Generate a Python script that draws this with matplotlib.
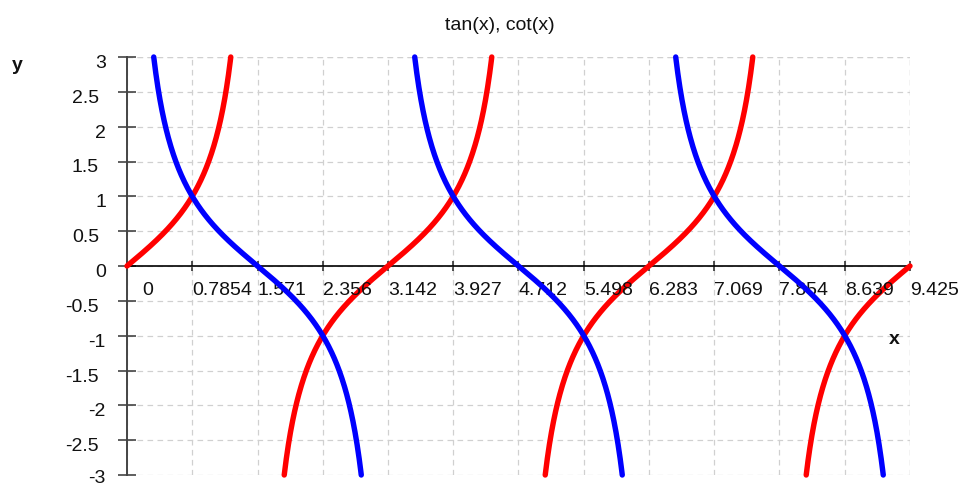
import numpy as np
import matplotlib
matplotlib.use("Agg")
import matplotlib.pyplot as plt

plt.rcParams['font.family'] = ['Liberation Sans', 'DejaVu Sans']

title = "tan(x), cot(x)"
x_min, x_max = 0.0, 3 * np.pi
y_min, y_max = -3.0, 3.0
x_ticks = [0, 0.7854, 1.571, 2.356, 3.142, 3.927, 4.712, 5.498, 6.283, 7.069, 7.854, 8.639, 9.425]
x_tick_labels = ["0", "0.7854", "1.571", "2.356", "3.142", "3.927", "4.712", "5.498",
                 "6.283", "7.069", "7.854", "8.639", "9.425"]
y_ticks = [-3, -2.5, -2, -1.5, -1, -0.5, 0, 0.5, 1, 1.5, 2, 2.5, 3]
y_tick_labels = ["-3", "-2.5", "-2", "-1.5", "-1", "-0.5", "0", "0.5", "1", "1.5", "2", "2.5", "3"]

# branch domains where each function stays inside [-3, 3]
a3 = np.arctan(3.0)
tan_branches = [(0.0, a3), (np.pi - a3, np.pi + a3), (2 * np.pi - a3, 2 * np.pi + a3), (3 * np.pi - a3, 3 * np.pi)]
cot_branches = [(np.pi / 2 - a3, np.pi / 2 + a3), (1.5 * np.pi - a3, 1.5 * np.pi + a3), (2.5 * np.pi - a3, 2.5 * np.pi + a3)]

W, H = 962, 488
fig = plt.figure(figsize=(W / 100, H / 100), dpi=100)
L, R, T, B = 127, 910, 57, 475
ax = fig.add_axes([L / W, 1 - B / H, (R - L) / W, (B - T) / H])
ax.set_xlim(x_min, x_max)
ax.set_ylim(y_min, y_max)

for s in ['top', 'right']:
    ax.spines[s].set_visible(False)
ax.spines['left'].set_position(('data', 0))
ax.spines['left'].set_color('#444444')
ax.spines['left'].set_linewidth(1.4)
ax.spines['bottom'].set_position(('data', 0))
ax.spines['bottom'].set_color('#000000')
ax.spines['bottom'].set_linewidth(1.2)

ax.set_xticks(x_ticks)
ax.set_yticks(y_ticks)
ax.set_xticklabels([])
ax.set_yticklabels([])
ax.tick_params(axis='y', direction='inout', length=13, width=1.2, color='#444444')
ax.tick_params(axis='x', direction='inout', length=7, width=1.2, color='#333333')

gkw = dict(color='#d0d0d0', linestyle=(0, (4.5, 3.5)), linewidth=0.9)
ax.grid(True, **gkw)
ax.set_axisbelow(True)
ax.axhline(y_max, zorder=0.5, **gkw)
ax.axvline(x_max, zorder=0.5, **gkw)

for a, b in tan_branches:
    xs = np.linspace(a, b, 400)
    ax.plot(xs, np.tan(xs), color='#ff0000', lw=3.9, solid_capstyle='round', clip_on=False, zorder=3)
for a, b in cot_branches:
    xs = np.linspace(a, b, 400)
    ax.plot(xs, 1 / np.tan(xs), color='#0000ff', lw=3.9, solid_capstyle='round', clip_on=False, zorder=4)

fs = 14
px = 0.72
for v, lab in zip(x_ticks, x_tick_labels):
    dx = 15 if lab == "0" else 0
    ax.annotate(lab, (v, 0), xytext=(dx * px, -24.5 * px), textcoords='offset points',
                ha='left', va='center', fontsize=fs, color='#111111', annotation_clip=False)
for v, lab in zip(y_ticks, y_tick_labels):
    dx = -28 if '.' in lab else -21
    dy = -3.5 if v == y_min else -6.5
    ax.annotate(lab, (0, v), xytext=(dx * px, dy * px), textcoords='offset points',
                ha='right', va='center', fontsize=fs, color='#111111', annotation_clip=False)

fig.text(500 / W, 1 - 25 / H, title, ha='center', va='center', fontsize=14, color='#111111')
fig.text(894 / W, 1 - 339 / H, "x", ha='center', va='center', fontsize=14, fontweight='bold', color='#111111')
fig.text(17 / W, 1 - 65 / H, "y", ha='center', va='center', fontsize=14, fontweight='bold', color='#111111')

fig.savefig("out.png", dpi=100)
